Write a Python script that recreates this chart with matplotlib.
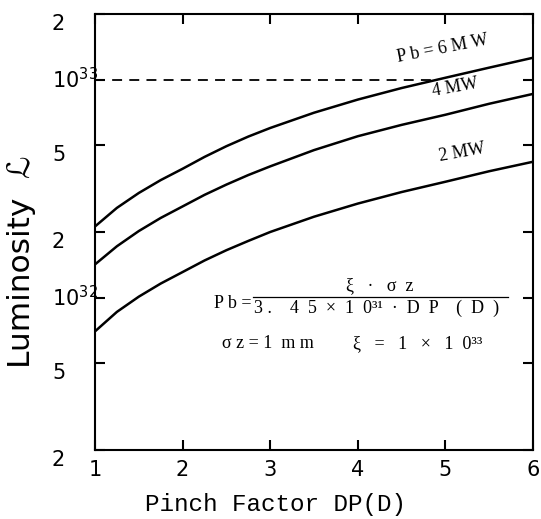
import numpy as np
import matplotlib
matplotlib.use('Agg')
import matplotlib.pyplot as plt
from matplotlib.ticker import NullLocator

# pinch factor DP(D) and luminosity (units of 1e32)
dp = [1, 1.25, 1.5, 1.75, 2, 2.25, 2.5, 2.75, 3, 3.5, 4, 4.5, 5, 5.5, 6]
lum_6mw = [2.12, 2.58, 3.02, 3.46, 3.9, 4.42, 4.95, 5.48, 6.0, 7.05, 8.1,
           9.15, 10.2, 11.35, 12.6]
lum_4mw = [1.42, 1.72, 2.02, 2.32, 2.62, 2.96, 3.3, 3.65, 4.0, 4.75, 5.5,
           6.2, 6.9, 7.75, 8.6]
lum_2mw = [0.70, 0.86, 1.01, 1.16, 1.31, 1.48, 1.65, 1.82, 2.0, 2.35, 2.7,
           3.05, 3.4, 3.8, 4.2]
dash_x = [1, 4.85]
dash_y = [1e33, 1e33]

x_ticks = [1, 2, 3, 4, 5, 6]
y_ticks = [2e31, 5e31, 1e32, 2e32, 5e32, 1e33, 2e33]
y_labels = ['2', '5', '$10^{32}$', '2', '5', '$10^{33}$', '2']

fig = plt.figure(figsize=(5.41, 5.19), dpi=100)
ax = fig.add_axes([0.1756, 0.133, 0.8096, 0.840])

for vals in (lum_6mw, lum_4mw, lum_2mw):
    ax.plot(dp, np.array(vals) * 1e32, color='black', lw=1.8)
ax.plot(dash_x, dash_y, color='black', lw=1.3, dashes=(5.5, 4))

ax.set_yscale('log')
ax.set_xlim(1, 6)
ax.set_ylim(2e31, 2e33)
ax.set_xticks(x_ticks)
ax.set_xticklabels([str(t) for t in x_ticks])
ax.set_yticks(y_ticks)
ax.set_yticklabels(y_labels)
ax.yaxis.set_minor_locator(NullLocator())
ax.tick_params(direction='in', length=7, width=1.5, top=True, right=True,
               labelsize=15)
ax.tick_params(axis='x', pad=7)
ax.tick_params(axis='y', pad=31)
for lab in ax.get_yticklabels():
    lab.set_horizontalalignment('left')
    if '10' in lab.get_text():
        lab.set_verticalalignment('center')
    else:
        lab.set_verticalalignment('top')
for s in ax.spines.values():
    s.set_linewidth(1.5)

ax.set_xlabel('Pinch Factor DP(D)', family='Liberation Mono', fontsize=17.5)
ax.xaxis.set_label_coords(0.411, -0.126)
ax.xaxis.label.set_va('center')
ax.set_ylabel('Luminosity  \u2112', family=['DejaVu Sans'], fontsize=22.5)
ax.yaxis.set_label_coords(-0.167, 0.431)
ax.yaxis.label.set_va('center')

serif = ['Liberation Serif', 'DejaVu Serif']
fs = 13
ax.text(4.97, 1.38e33, 'P b = 6 M W', family=serif, fontsize=fs,
        rotation=11, ha='center', va='center')
ax.text(5.11, 9.2e32, '4 MW', family=serif, fontsize=fs,
        rotation=10, ha='center', va='center')
ax.text(5.19, 4.62e32, '2 MW', family=serif, fontsize=fs,
        rotation=10, ha='center', va='center')

# formula block
ax.text(0.358, 0.337, 'P b =', family=serif, fontsize=fs,
        ha='right', va='center', transform=ax.transAxes)
ax.plot([0.361, 0.943], [0.351, 0.351], color='black', lw=0.9,
        transform=ax.transAxes)
ax.text(0.651, 0.376, '\u03be   \u00b7   \u03c3  z', family=serif, fontsize=fs,
        ha='center', va='center', transform=ax.transAxes)
ax.text(0.643, 0.324,
        '3 .    4  5  \u00d7  1  0\u00b3\u00b9  \u00b7  D  P    (  D  )',
        family=serif, fontsize=fs, ha='center', va='center',
        transform=ax.transAxes)
ax.text(0.290, 0.245, '\u03c3 z = 1  m m', family=serif, fontsize=fs,
        ha='left', va='center', transform=ax.transAxes)
ax.text(0.589, 0.245, '\u03be   =   1   \u00d7   1  0\u00b3\u00b3', family=serif,
        fontsize=fs, ha='left', va='center', transform=ax.transAxes)

fig.savefig('out.png', dpi=100)
